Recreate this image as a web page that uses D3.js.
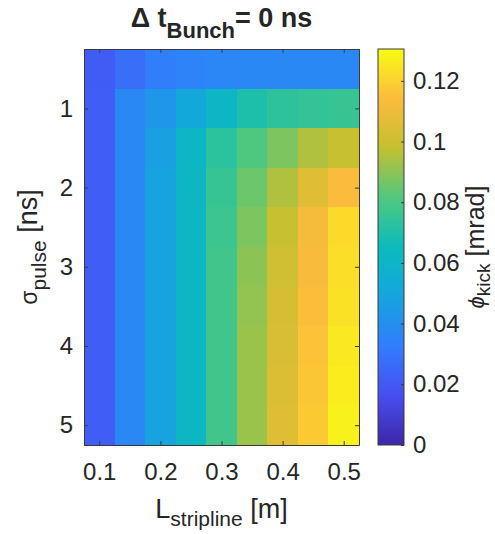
<!DOCTYPE html>
<html>
<head>
<meta charset="utf-8">
<script src="https://cdn.jsdelivr.net/npm/d3@7"></script>
<style>
  body { margin: 0; background: #fff; }
  text { font-family: Arial, "Liberation Sans", Helvetica, sans-serif; fill: #262626; }
</style>
</head>
<body>
<div id="chart"></div>
<script>
// kick angle vs stripline length and pulse width, bunch offset 0 ns

var lengths = [0.1, 0.15, 0.2, 0.25, 0.3, 0.35, 0.4, 0.45, 0.5];
var sigmas = [0.5, 1, 1.5, 2, 2.5, 3, 3.5, 4, 4.5, 5];

// rows follow sigmas, columns follow lengths
var kick = [
  [0.021, 0.0275, 0.033, 0.035, 0.0365, 0.037, 0.037, 0.037, 0.037],
  [0.022, 0.037, 0.043, 0.052, 0.061, 0.070, 0.0736, 0.075, 0.076],
  [0.022, 0.037, 0.047, 0.061, 0.073, 0.081, 0.088, 0.095, 0.099],
  [0.022, 0.037, 0.048, 0.062, 0.0755, 0.0855, 0.095, 0.106, 0.114],
  [0.022, 0.037, 0.048, 0.062, 0.077, 0.088, 0.099, 0.112, 0.122],
  [0.022, 0.037, 0.048, 0.062, 0.078, 0.090, 0.102, 0.113, 0.123],
  [0.022, 0.037, 0.048, 0.062, 0.078, 0.091, 0.103, 0.115, 0.124],
  [0.022, 0.037, 0.048, 0.062, 0.078, 0.092, 0.104, 0.116, 0.126],
  [0.022, 0.037, 0.048, 0.062, 0.078, 0.092, 0.105, 0.117, 0.127],
  [0.022, 0.037, 0.048, 0.062, 0.078, 0.092, 0.106, 0.118, 0.128]
];

var xTicks = [0.1, 0.2, 0.3, 0.4, 0.5];
var yTicks = [1, 2, 3, 4, 5];
var cTicks = [0, 0.02, 0.04, 0.06, 0.08, 0.1, 0.12];
var cMax = 0.1305;

// parula-ish colour stops
var parula = ["#3e26a8", "#474ef2", "#327dfc", "#14a5de", "#0abcbc", "#50c87d", "#c3c030", "#fcbb3c", "#f9fb15"];

var W = 495, H = 534;
var plot = {left: 84, right: 359, top: 49, bottom: 445};
var cbar = {left: 378, right: 404};

var svg = d3.select('#chart').append('svg')
    .attr('width', W)
    .attr('height', H);

var x = d3.scaleLinear().domain([0.075, 0.525]).range([plot.left, plot.right]);
var y = d3.scaleLinear().domain([0.25, 5.25]).range([plot.top, plot.bottom]);
var color = d3.scaleSequential(d3.piecewise(d3.interpolateRgb, parula)).domain([0, cMax]);

var cells = [];
sigmas.forEach(function(s, i) {
  lengths.forEach(function(l, j) {
    cells.push({L: l, s: s, v: kick[i][j]});
  });
});

var dL = 0.025, dS = 0.25;
svg.append('g')
  .attr('shape-rendering', 'crispEdges')
  .selectAll('rect')
  .data(cells)
  .enter()
  .append('rect')
  .attr('x', function(d) { return x(d.L - dL); })
  .attr('y', function(d) { return y(d.s - dS); })
  .attr('width', function(d) { return x(d.L + dL) - x(d.L - dL) + 0.5; })
  .attr('height', function(d) { return y(d.s + dS) - y(d.s - dS) + 0.5; })
  .attr('fill', function(d) { return color(d.v); });

// axes, ticks inward on all four sides
var tickLen = 4;
var axStroke = '#3a3a3a';
var fmt = d3.format('~g');

var gx = svg.append('g')
  .attr('transform', 'translate(0,' + plot.bottom + ')')
  .call(d3.axisBottom(x).tickValues(xTicks).tickSizeInner(-tickLen).tickSizeOuter(0).tickPadding(18)
    .tickFormat(fmt));
var gxt = svg.append('g')
  .attr('transform', 'translate(0,' + plot.top + ')')
  .call(d3.axisTop(x).tickValues(xTicks).tickSizeInner(-tickLen).tickSizeOuter(0).tickFormat(''));
var gy = svg.append('g')
  .attr('transform', 'translate(' + plot.left + ',0)')
  .call(d3.axisLeft(y).tickValues(yTicks).tickSizeInner(-tickLen).tickSizeOuter(0).tickPadding(11)
    .tickFormat(fmt));
var gyr = svg.append('g')
  .attr('transform', 'translate(' + plot.right + ',0)')
  .call(d3.axisRight(y).tickValues(yTicks).tickSizeInner(-tickLen).tickSizeOuter(0).tickFormat(''));

[gx, gxt, gy, gyr].forEach(function(g) {
  g.selectAll('path, line').attr('stroke', axStroke).attr('stroke-width', 1);
  g.selectAll('text').style('font-size', '24px').attr('fill', '#262626')
    .style('font-family', 'Arial, "Liberation Sans", sans-serif');
});

// colorbar
var cy = d3.scaleLinear().domain([0, cMax]).range([plot.bottom, plot.top]);
var grad = svg.append('defs').append('linearGradient')
  .attr('id', 'cgrad')
  .attr('x1', 0).attr('y1', 1).attr('x2', 0).attr('y2', 0);
grad.selectAll('stop')
  .data(d3.range(0, 1.0001, 0.02))
  .enter()
  .append('stop')
  .attr('offset', function(t) { return t; })
  .attr('stop-color', function(t) { return color(t * cMax); });

svg.append('rect')
  .attr('x', cbar.left)
  .attr('y', plot.top)
  .attr('width', cbar.right - cbar.left)
  .attr('height', plot.bottom - plot.top)
  .attr('fill', 'url(#cgrad)')
  .attr('stroke', axStroke)
  .attr('stroke-width', 1);

var gc = svg.append('g')
  .attr('transform', 'translate(' + cbar.right + ',0)')
  .call(d3.axisRight(cy).tickValues(cTicks).tickSizeInner(-3).tickSizeOuter(0).tickPadding(9)
    .tickFormat(fmt));
gc.select('.domain').remove();
gc.selectAll('line').attr('stroke', axStroke);
gc.selectAll('text').style('font-size', '24px').attr('fill', '#262626')
  .style('font-family', 'Arial, "Liberation Sans", sans-serif');

// title
var title = svg.append('text')
  .attr('x', (plot.left + plot.right) / 2)
  .attr('y', 27)
  .attr('text-anchor', 'middle')
  .style('font-weight', 'bold')
  .style('font-size', '27px')
  .attr('fill', '#000');
title.append('tspan').text('\u0394 t');
title.append('tspan').attr('dy', 11).style('font-size', '22px').text('Bunch');
title.append('tspan').attr('dy', -11).text('= 0 ns');

// x label
var xl = svg.append('text')
  .attr('x', (plot.left + plot.right) / 2)
  .attr('y', 518)
  .attr('text-anchor', 'middle')
  .style('font-size', '27px');
xl.append('tspan').text('L');
xl.append('tspan').attr('dy', 8).style('font-size', '21px').text('stripline');
xl.append('tspan').attr('dy', -8).text(' [m]');

// y label
var yl = svg.append('text')
  .attr('transform', 'translate(37,' + (plot.top + plot.bottom) / 2 + ') rotate(-90)')
  .attr('text-anchor', 'middle')
  .style('font-size', '27px');
yl.append('tspan').style('font-size', '23px').text('\u03c3');
yl.append('tspan').attr('dy', 9).style('font-size', '21px').text('pulse');
yl.append('tspan').attr('dy', -9).text(' [ns]');

// colorbar label
var cl = svg.append('text')
  .attr('transform', 'translate(484,' + (plot.top + plot.bottom) / 2 + ') rotate(-90)')
  .attr('text-anchor', 'middle')
  .style('font-size', '25px');
cl.append('tspan').style('font-style', 'italic').style('font-size', '22px').text('\u03d5');
cl.append('tspan').attr('dy', 6).style('font-size', '19px').text('kick');
cl.append('tspan').attr('dy', -6).text(' [mrad]');
</script>
</body>
</html>
